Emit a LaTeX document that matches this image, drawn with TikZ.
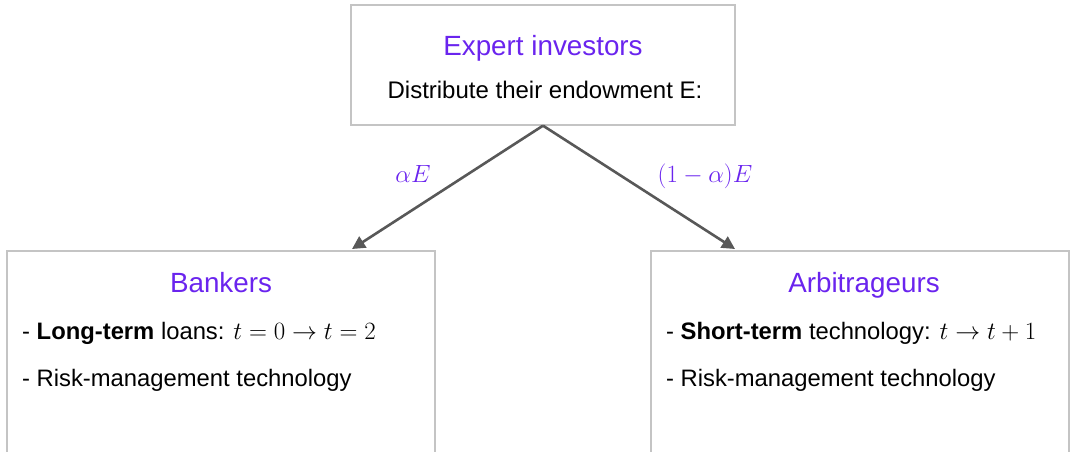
\documentclass[tikz,border=0pt]{standalone}
\usepackage{fontspec}
\setmainfont{Liberation Sans}
\usetikzlibrary{arrows.meta}
\definecolor{ttl}{RGB}{106,36,238}
\definecolor{bord}{RGB}{196,196,196}
\definecolor{arr}{RGB}{88,88,88}
\tikzset{
  box/.style={draw=bord, line width=1.3pt, inner sep=0pt},
  title/.style={text=ttl, font=\fontsize{27.8}{32}\selectfont, anchor=base, inner sep=0pt},
  body/.style={text=black, font=\fontsize{23.8}{28}\selectfont, anchor=base west, inner sep=0pt},
  bodyc/.style={text=black, font=\fontsize{24}{28}\selectfont, anchor=base, inner sep=0pt},
  lab/.style={text=ttl, font=\fontsize{24.5}{28}\selectfont, anchor=base, inner sep=0pt},
  conn/.style={draw=arr, line width=2.6pt, -{Triangle[length=13pt,width=13pt]}, shorten >=0pt}
}
\begin{document}
\begin{tikzpicture}[x=1pt,y=-1pt]
\useasboundingbox (0,0) rectangle (1074,451);
\clip (0,0) rectangle (1074,451);
\node[box, minimum width=384pt, minimum height=120pt] (top) at (543,65) {};
\node[box, minimum width=428pt, minimum height=300pt] (lbox) at (221,401) {};
\node[box, minimum width=418pt, minimum height=300pt] (rbox) at (860,401) {};
\node[title] (t1) at (543,55) {Expert investors};
\node[bodyc] (t2) at (545,98) {Distribute their endowment E:};
\node[title] (b1) at (221,292) {Bankers};
\node[body] (b2) at (22,339) {- \textbf{Long-term} loans: $t=0\rightarrow t=2$};
\node[body] (b3) at (22,386) {- Risk-management technology};
\node[title] (a1) at (864,292) {Arbitrageurs};
\node[body] (a2) at (666,339) {- \textbf{Short-term} technology: $t\rightarrow t+1$};
\node[body] (a3) at (666,386) {- Risk-management technology};
\coordinate (le) at (352,249);
\coordinate (re) at (735,249);
\draw[conn] (top.south) -- (le);
\draw[conn] (top.south) -- (re);
\node[lab] (l1) at (413,182) {$\alpha E$};
\node[lab] (l2) at (705,182) {$(1-\alpha)E$};
\end{tikzpicture}
\end{document}
